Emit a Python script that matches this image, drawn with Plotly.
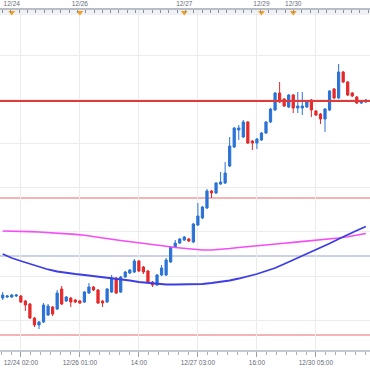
import plotly.graph_objects as go

# hourly candles, index 0..80
open_ = [115.57, 115.58, 115.58, 115.59, 115.59, 115.54, 115.51, 115.37, 115.30, 115.33,
         115.40, 115.48, 115.46, 115.66, 115.54, 115.57, 115.55, 115.54, 115.53, 115.62,
         115.68, 115.65, 115.54, 115.53, 115.63, 115.77, 115.63, 115.78, 115.82, 115.83,
         115.94, 115.88, 115.84, 115.73, 115.70, 115.80, 115.80, 115.93, 116.08, 116.12,
         116.15, 116.16, 116.13, 116.30, 116.37, 116.47, 116.64, 116.62, 116.71, 116.72,
         116.89, 117.08, 117.25, 117.18, 117.33, 117.14, 117.12, 117.15, 117.22, 117.33,
         117.45, 117.62, 117.56, 117.48, 117.60, 117.47, 117.47, 117.48, 117.55, 117.44,
         117.41, 117.36, 117.45, 117.66, 117.57, 117.83, 117.73, 117.62, 117.58, 117.52,
         117.53]
high = [115.63, 115.60, 115.61, 115.61, 115.60, 115.55, 115.52, 115.38, 115.34, 115.52,
        115.51, 115.49, 115.65, 115.69, 115.59, 115.58, 115.56, 115.55, 115.64, 115.72,
        115.69, 115.66, 115.55, 115.67, 115.80, 115.78, 115.79, 115.84, 115.86, 115.96,
        115.95, 115.89, 115.85, 115.74, 115.81, 115.90, 115.97, 116.09, 116.15, 116.17,
        116.19, 116.17, 116.32, 116.52, 116.49, 116.66, 116.65, 116.73, 116.83, 116.93,
        117.18, 117.28, 117.30, 117.35, 117.34, 117.15, 117.17, 117.23, 117.34, 117.47,
        117.63, 117.73, 117.57, 117.61, 117.61, 117.63, 117.63, 117.54, 117.56, 117.45,
        117.42, 117.47, 117.65, 117.67, 117.91, 117.84, 117.74, 117.63, 117.59, 117.55,
        117.56]
low = [115.55, 115.57, 115.57, 115.58, 115.52, 115.44, 115.36, 115.28, 115.26, 115.32,
       115.39, 115.39, 115.45, 115.50, 115.53, 115.48, 115.52, 115.51, 115.52, 115.61,
       115.64, 115.51, 115.48, 115.52, 115.62, 115.61, 115.62, 115.77, 115.81, 115.82,
       115.83, 115.81, 115.72, 115.68, 115.69, 115.79, 115.79, 115.92, 116.07, 116.11,
       116.14, 116.13, 116.12, 116.29, 116.36, 116.46, 116.57, 116.61, 116.70, 116.71,
       116.88, 117.07, 117.15, 117.17, 117.11, 117.05, 117.06, 117.14, 117.21, 117.32,
       117.44, 117.52, 117.48, 117.47, 117.42, 117.42, 117.40, 117.47, 117.38, 117.39,
       117.31, 117.23, 117.44, 117.56, 117.56, 117.72, 117.59, 117.58, 117.51, 117.51,
       117.52]
close = [115.60, 115.59, 115.60, 115.60, 115.53, 115.50, 115.37, 115.30, 115.33, 115.50,
         115.49, 115.41, 115.62, 115.51, 115.58, 115.53, 115.53, 115.52, 115.63, 115.68,
         115.65, 115.52, 115.52, 115.66, 115.77, 115.62, 115.78, 115.83, 115.85, 115.94,
         115.84, 115.83, 115.73, 115.70, 115.80, 115.87, 115.95, 116.08, 116.12, 116.16,
         116.18, 116.14, 116.31, 116.39, 116.48, 116.64, 116.62, 116.72, 116.73, 116.82,
         117.09, 117.27, 117.27, 117.33, 117.12, 117.12, 117.16, 117.22, 117.33, 117.46,
         117.62, 117.53, 117.49, 117.60, 117.47, 117.49, 117.49, 117.53, 117.45, 117.40,
         117.36, 117.46, 117.64, 117.57, 117.83, 117.73, 117.60, 117.59, 117.52, 117.54,
         117.55]

ma_idx = list(range(0, 81, 2))
ma_blue = [116.010, 115.970, 115.940, 115.910, 115.880, 115.855, 115.835, 115.820, 115.810, 115.800,
           115.790, 115.780, 115.770, 115.760, 115.745, 115.730, 115.720, 115.710, 115.705, 115.705,
           115.705, 115.705, 115.710, 115.720, 115.730, 115.745, 115.765, 115.785, 115.810, 115.840,
           115.870, 115.910, 115.950, 115.990, 116.030, 116.070, 116.115, 116.160, 116.205, 116.245,
           116.285]
ma_magenta = [116.240, 116.240, 116.238, 116.234, 116.230, 116.225, 116.220, 116.213, 116.206, 116.197,
              116.186, 116.174, 116.158, 116.145, 116.132, 116.120, 116.110, 116.100, 116.087, 116.075,
              116.065, 116.055, 116.050, 116.050, 116.055, 116.065, 116.075, 116.085, 116.094, 116.102,
              116.110, 116.118, 116.126, 116.134, 116.142, 116.150, 116.160, 116.170, 116.182, 116.197,
              116.215]

level_main = [117.54]
level_minor = [116.57, 115.20]
level_pivot = [115.99]

bottom_tick_idx = [4, 17, 30, 43, 56, 69]
bottom_tick_text = ["12/24 02:00", "12/26 01:00", "14:00", "12/27 03:00", "16:00", "12/30 05:00"]
day_idx = [2, 17, 40, 57, 64]
day_text = ["12/24", "12/26", "12/27", "12/29", "12/30"]

idx = list(range(len(open_)))
x_range = [-0.59, 80.91]
y_range = [115.05, 118.45]

FONT = "Liberation Sans"
LBL = "#666b78"

fig = go.Figure()

fig.add_trace(go.Scatter(x=ma_idx, y=ma_magenta, mode="lines",
                         line=dict(color="#f64cf6", width=1.6), hoverinfo="skip"))
fig.add_trace(go.Scatter(x=ma_idx, y=ma_blue, mode="lines",
                         line=dict(color="#3d3de6", width=1.8), hoverinfo="skip"))

fig.add_trace(go.Candlestick(
    x=idx, open=open_, high=high, low=low, close=close,
    increasing=dict(line=dict(color="#2a72d6", width=1), fillcolor="#2a72d6"),
    decreasing=dict(line=dict(color="#e5282a", width=1), fillcolor="#e5282a"),
    whiskerwidth=0,
))

fig.add_trace(go.Scatter(x=day_idx, y=[y_range[1] - 0.025] * len(day_idx), xaxis="x2",
                         mode="markers", cliponaxis=False,
                         marker=dict(symbol="triangle-down", size=6, color="#f4a01e"),
                         hoverinfo="skip"))

shapes = []
shapes.append(dict(type="rect", xref="paper", yref="paper", x0=0, x1=1, y0=1 - 5 / 340, y1=1,
                   fillcolor="#f0f1f5", line=dict(width=0), layer="below"))
for v in level_main:
    shapes.append(dict(type="line", xref="paper", yref="y", x0=0, x1=1, y0=v, y1=v,
                       line=dict(color="#e23a3a", width=1.8)))
for v in level_minor:
    shapes.append(dict(type="line", xref="paper", yref="y", x0=0, x1=1, y0=v, y1=v,
                       line=dict(color="#f39a9a", width=1.3), layer="below"))
for v in level_pivot:
    shapes.append(dict(type="line", xref="paper", yref="y", x0=0, x1=1, y0=v, y1=v,
                       line=dict(color="#cdd2e2", width=1.8), layer="below"))

fig.update_layout(
    width=370, height=370,
    margin=dict(l=0, r=0, t=10, b=20, autoexpand=False),
    paper_bgcolor="white", plot_bgcolor="white",
    showlegend=False,
    shapes=shapes,
    xaxis=dict(range=x_range, tickmode="array", tickvals=bottom_tick_idx, ticktext=bottom_tick_text,
               automargin=False,
               showgrid=True, gridcolor="#ebebeb", gridwidth=1, zeroline=False,
               showline=True, linecolor="#c3c8d3", linewidth=1.5,
               ticks="outside", ticklen=5, tickcolor="#9aa0aa", tickwidth=1,
               minor=dict(ticks="outside", ticklen=3, tickcolor="#aab0ba", tick0=4, dtick=13 / 6,
                          showgrid=False),
               tickfont=dict(family=FONT, size=6.5, color=LBL),
               rangeslider=dict(visible=False), fixedrange=True),
    xaxis2=dict(range=x_range, overlaying="x", side="top", anchor="y", automargin=False,
                tickmode="array", tickvals=day_idx, ticktext=day_text,
                showgrid=False, zeroline=False, showline=True, linecolor="#b9bdc6", linewidth=1.5,
                ticks="", ticklen=2,
                minor=dict(ticks="inside", ticklen=3, tickcolor="#8a8f99", tick0=0, dtick=1.83,
                           showgrid=False),
                tickfont=dict(family=FONT, size=6.5, color=LBL)),
    yaxis=dict(range=y_range, tick0=118.00, dtick=0.442, showgrid=True, gridcolor="#ececec",
               gridwidth=1, zeroline=False, showticklabels=False, showline=False, ticks="",
               automargin=False, fixedrange=True),
)

fig.write_html("out.html", config={"displayModeBar": False},
               post_script="document.body.style.margin='0';document.body.style.overflow='hidden';")
